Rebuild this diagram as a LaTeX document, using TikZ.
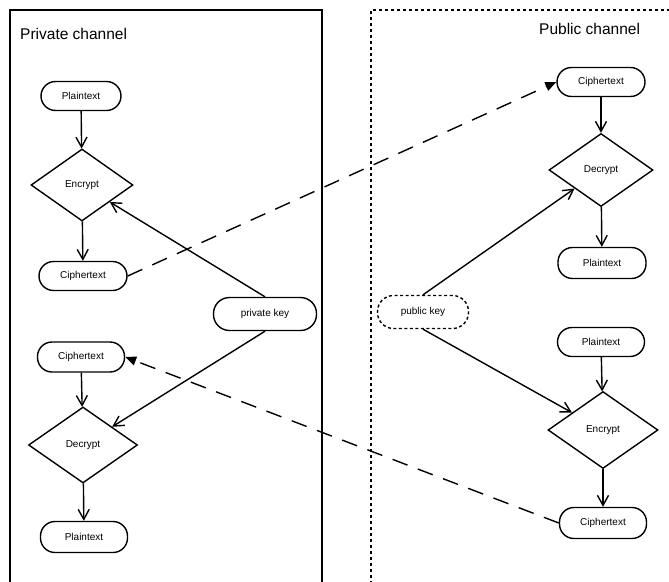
\documentclass[tikz,border=0pt]{standalone}
\usepackage{fontspec}
\setmainfont{Liberation Sans}
\usetikzlibrary{shapes.geometric,arrows.meta}
\tikzset{
  every node/.style={font=\fontsize{10}{12}\selectfont, inner sep=0pt},
  term/.style={draw, line width=1.4pt, rectangle, rounded corners=14.5pt, minimum height=29pt},
  dterm/.style={term, dash pattern=on 3pt off 2.5pt},
  decide/.style={draw, line width=1.4pt, diamond},
  flow/.style={line width=1.4pt, -{Straight Barb[length=10pt,width=11pt]}},
  msg/.style={line width=1.4pt, dash pattern=on 16pt off 11pt, -{Triangle[length=11pt,width=9pt]}},
  title/.style={font=\fontsize{15.5}{18}\selectfont, anchor=base west},
}
\begin{document}
\begin{tikzpicture}[x=1pt,y=-1pt]
\useasboundingbox (0,0) rectangle (669,581);
% channels
\draw[line width=1.4pt] (10,590) -- (10,10) -- (322,10) -- (322,590);
\draw[line width=1.4pt, dash pattern=on 3pt off 3pt] (371,590) -- (371,10) -- (680,10);
\node[title] (tpriv) at (20,39) {Private channel};
\node[title] (tpub) at (539,34) {Public channel};
% left nodes
\node[term, minimum width=80pt] (pt1) at (81,96) {Plaintext};
\node[decide, minimum width=102pt, minimum height=72pt] (enc1) at (82,185) {Encrypt};
\node[term, minimum width=88pt] (ct1) at (83,276) {Ciphertext};
\node[term, minimum width=87pt, minimum height=30pt] (ct2) at (81,357) {Ciphertext};
\node[decide, minimum width=109pt, minimum height=76pt] (dec1) at (83,445) {Decrypt};
\node[term, minimum width=87pt, minimum height=31pt] (pt2) at (84,537) {Plaintext};
\node[term, minimum width=103pt, minimum height=33pt, rounded corners=16pt] (priv) at (265,314) {private key};
% right nodes
\node[term, minimum width=88pt] (ct3) at (601,82) {Ciphertext};
\node[decide, minimum width=104pt, minimum height=73pt] (dec2) at (601,170) {Decrypt};
\node[term, minimum width=88pt, minimum height=31pt] (pt3) at (602,263) {Plaintext};
\node[dterm, minimum width=91pt, minimum height=33pt, rounded corners=16pt] (pub) at (423,312) {public key};
\node[term, minimum width=87pt] (pt4) at (601,342) {Plaintext};
\node[decide, minimum width=110pt, minimum height=77pt] (enc2) at (603,430) {Encrypt};
\node[term, minimum width=87pt, minimum height=31pt] (ct4) at (603,523) {Ciphertext};
% flows
\draw[flow] (pt1) -- (enc1);
\draw[flow] (enc1) -- (ct1);
\draw[flow] (ct2) -- (dec1);
\draw[flow] (dec1) -- (pt2);
\draw[flow] (ct3) -- (dec2);
\draw[flow] (dec2) -- (pt3);
\draw[flow] (pt4) -- (enc2);
\draw[flow] (enc2) -- (ct4);
\draw[flow] (priv.north) -- (enc1);
\draw[flow] (priv.south) -- (dec1);
\draw[flow] (pub.north) -- (dec2);
\draw[flow] (pub.south) -- (enc2);
% messages
\draw[msg] (ct1.east) -- (ct3.west);
\draw[msg] (ct4.west) -- (ct2.east);
\end{tikzpicture}
\end{document}
